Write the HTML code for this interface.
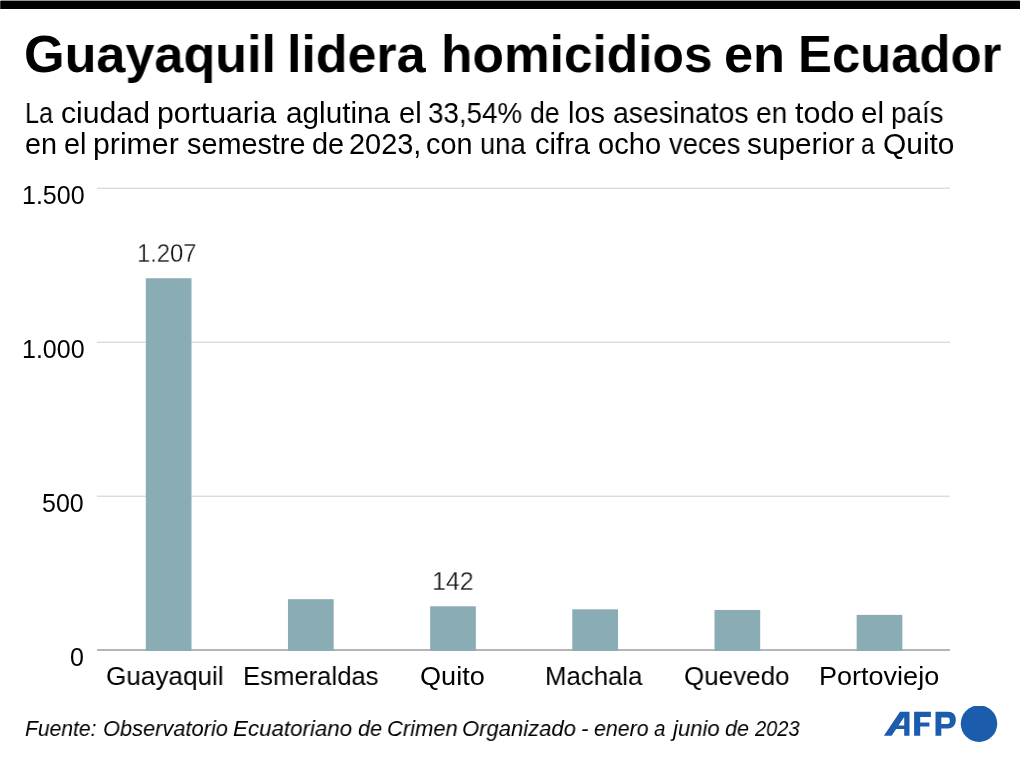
<!DOCTYPE html>
<html><head><meta charset="utf-8"><style>
html,body{margin:0;padding:0;background:#fff;width:1020px;height:760px;overflow:hidden;}
body{position:relative;font-family:"Liberation Sans",sans-serif;}
.t{position:absolute;white-space:nowrap;line-height:1;transform-origin:0 0;will-change:transform;}
.g{position:absolute;left:97px;width:853px;height:1px;background:#dcdcdc;}
.b{position:absolute;background:#8aadb5;}
</style></head><body>
<div style="position:absolute;left:0;top:0;width:1020px;height:1px;background:#959595"></div>
<div style="position:absolute;left:0;top:1px;width:1020px;height:8px;background:#000"></div>
<div style="position:absolute;left:0;top:1px;width:1px;height:8px;background:#3a3a3a"></div>
<div style="position:absolute;left:0;top:0;width:1px;height:1px;background:#cccccc"></div>
<svg style="position:absolute;left:0;top:0" width="1020" height="760"><rect x="97" y="187" width="853" height="1" fill="#f0f0f0"/><rect x="97" y="188" width="853" height="1" fill="#dcdcdc"/><rect x="97" y="341" width="853" height="1" fill="#f0f0f0"/><rect x="97" y="342" width="853" height="1" fill="#dcdcdc"/><rect x="97" y="495" width="853" height="1" fill="#f0f0f0"/><rect x="97" y="496" width="853" height="1" fill="#dcdcdc"/><rect x="97" y="649" width="853" height="2" fill="#b5b5b5"/><rect x="145.80" y="278.24" width="45.7" height="372.76" fill="#8aadb5"/><rect x="287.97" y="599.18" width="45.7" height="51.82" fill="#8aadb5"/><rect x="430.14" y="606.26" width="45.7" height="44.74" fill="#8aadb5"/><rect x="572.31" y="609.34" width="45.7" height="41.66" fill="#8aadb5"/><rect x="714.48" y="609.96" width="45.7" height="41.04" fill="#8aadb5"/><rect x="856.65" y="614.89" width="45.7" height="36.11" fill="#8aadb5"/></svg>
<div class="t" style="left:24.31px;top:28.00px;font-size:52.3px;transform:scaleX(0.9969);color:#000;font-weight:700;">Guayaquil</div>
<div class="t" style="left:286.97px;top:28.00px;font-size:52.3px;transform:scaleX(0.9927);color:#000;font-weight:700;">lidera</div>
<div class="t" style="left:441.40px;top:28.00px;font-size:52.3px;transform:scaleX(0.9834);color:#000;font-weight:700;">homicidios</div>
<div class="t" style="left:724.41px;top:28.00px;font-size:52.3px;transform:scaleX(1.0011);color:#000;font-weight:700;">en</div>
<div class="t" style="left:797.64px;top:28.00px;font-size:52.3px;transform:scaleX(0.9716);color:#000;font-weight:700;">Ecuador</div>
<div class="t" style="left:24.88px;top:99.00px;font-size:28.8px;transform:scaleX(0.8765);color:#000;">La</div>
<div class="t" style="left:61.49px;top:99.00px;font-size:28.8px;transform:scaleX(1.0478);color:#000;">ciudad</div>
<div class="t" style="left:156.98px;top:99.00px;font-size:28.8px;transform:scaleX(1.0506);color:#000;">portuaria</div>
<div class="t" style="left:285.71px;top:99.00px;font-size:28.8px;transform:scaleX(1.0326);color:#000;">aglutina</div>
<div class="t" style="left:398.54px;top:99.00px;font-size:28.8px;transform:scaleX(1.0106);color:#000;">el</div>
<div class="t" style="left:427.69px;top:99.00px;font-size:28.8px;transform:scaleX(0.9643);color:#000;">33,54%</div>
<div class="t" style="left:529.74px;top:99.00px;font-size:28.8px;transform:scaleX(0.9237);color:#000;">de</div>
<div class="t" style="left:568.18px;top:99.00px;font-size:28.8px;transform:scaleX(1.0001);color:#000;">los</div>
<div class="t" style="left:612.57px;top:99.00px;font-size:28.8px;transform:scaleX(0.9848);color:#000;">asesinatos</div>
<div class="t" style="left:755.78px;top:99.00px;font-size:28.8px;transform:scaleX(0.9763);color:#000;">en</div>
<div class="t" style="left:794.69px;top:99.00px;font-size:28.8px;transform:scaleX(1.0600);color:#000;">todo</div>
<div class="t" style="left:860.82px;top:99.00px;font-size:28.8px;transform:scaleX(1.0261);color:#000;">el</div>
<div class="t" style="left:891.23px;top:99.00px;font-size:28.8px;transform:scaleX(0.9660);color:#000;">país</div>
<div class="t" style="left:24.75px;top:130.00px;font-size:28.8px;transform:scaleX(0.9970);color:#000;">en</div>
<div class="t" style="left:63.55px;top:130.00px;font-size:28.8px;transform:scaleX(0.9950);color:#000;">el</div>
<div class="t" style="left:93.08px;top:130.00px;font-size:28.8px;transform:scaleX(1.0505);color:#000;">primer</div>
<div class="t" style="left:186.64px;top:130.00px;font-size:28.8px;transform:scaleX(0.9970);color:#000;">semestre</div>
<div class="t" style="left:311.74px;top:130.00px;font-size:28.8px;transform:scaleX(1.0046);color:#000;">de</div>
<div class="t" style="left:348.76px;top:130.00px;font-size:28.8px;transform:scaleX(1.0034);color:#000;">2023,</div>
<div class="t" style="left:426.16px;top:130.00px;font-size:28.8px;transform:scaleX(0.9911);color:#000;">con</div>
<div class="t" style="left:479.56px;top:130.00px;font-size:28.8px;transform:scaleX(0.9511);color:#000;">una</div>
<div class="t" style="left:534.53px;top:130.00px;font-size:28.8px;transform:scaleX(1.0116);color:#000;">cifra</div>
<div class="t" style="left:597.64px;top:130.00px;font-size:28.8px;transform:scaleX(1.0101);color:#000;">ocho</div>
<div class="t" style="left:668.80px;top:130.00px;font-size:28.8px;transform:scaleX(0.9502);color:#000;">veces</div>
<div class="t" style="left:746.91px;top:130.00px;font-size:28.8px;transform:scaleX(1.0339);color:#000;">superior</div>
<div class="t" style="left:861.41px;top:130.00px;font-size:28.8px;transform:scaleX(0.8500);color:#000;">a</div>
<div class="t" style="left:882.70px;top:130.00px;font-size:28.8px;transform:scaleX(1.0386);color:#000;">Quito</div>
<div class="t" style="left:21.81px;top:183.00px;font-size:25px;transform:scaleX(0.9950);color:#000;">1.500</div>
<div class="t" style="left:21.61px;top:337.00px;font-size:25px;transform:scaleX(0.9966);color:#000;">1.000</div>
<div class="t" style="left:42.41px;top:491.00px;font-size:25px;transform:scaleX(0.9937);color:#000;">500</div>
<div class="t" style="left:70.12px;top:645.00px;font-size:25px;transform:scaleX(0.9833);color:#000;">0</div>
<div class="t" style="left:137.20px;top:240.00px;font-size:26.5px;transform:scaleX(0.8980);color:#1a1a1a;-webkit-text-stroke:0.3px #fff;">1.207</div>
<div class="t" style="left:432.11px;top:568.00px;font-size:26.5px;transform:scaleX(0.9409);color:#1a1a1a;-webkit-text-stroke:0.3px #fff;">142</div>
<div class="t" style="left:106.19px;top:663.00px;font-size:26.7px;transform:scaleX(0.9786);color:#000;">Guayaquil</div>
<div class="t" style="left:242.65px;top:663.00px;font-size:26.7px;transform:scaleX(0.9617);color:#000;">Esmeraldas</div>
<div class="t" style="left:419.74px;top:663.00px;font-size:26.7px;transform:scaleX(1.0161);color:#000;">Quito</div>
<div class="t" style="left:545.14px;top:663.00px;font-size:26.7px;transform:scaleX(0.9657);color:#000;">Machala</div>
<div class="t" style="left:684.10px;top:663.00px;font-size:26.7px;transform:scaleX(0.9736);color:#000;">Quevedo</div>
<div class="t" style="left:819.04px;top:663.00px;font-size:26.7px;transform:scaleX(1.0126);color:#000;">Portoviejo</div>
<div class="t" style="left:24.87px;top:718.00px;font-size:22.5px;transform:scaleX(0.9371);color:#000;font-style:italic;">Fuente:</div>
<div class="t" style="left:102.81px;top:718.00px;font-size:22.5px;transform:scaleX(0.9701);color:#000;font-style:italic;">Observatorio</div>
<div class="t" style="left:233.23px;top:718.00px;font-size:22.5px;transform:scaleX(0.9926);color:#000;font-style:italic;">Ecuatoriano</div>
<div class="t" style="left:357.95px;top:718.00px;font-size:22.5px;transform:scaleX(0.9658);color:#000;font-style:italic;">de</div>
<div class="t" style="left:386.90px;top:718.00px;font-size:22.5px;transform:scaleX(0.9755);color:#000;font-style:italic;">Crimen</div>
<div class="t" style="left:462.20px;top:718.00px;font-size:22.5px;transform:scaleX(0.9797);color:#000;font-style:italic;">Organizado</div>
<div class="t" style="left:580.74px;top:718.00px;font-size:22.5px;transform:scaleX(0.9402);color:#000;font-style:italic;">-</div>
<div class="t" style="left:593.66px;top:718.00px;font-size:22.5px;transform:scaleX(0.9493);color:#000;font-style:italic;">enero</div>
<div class="t" style="left:654.19px;top:718.00px;font-size:22.5px;transform:scaleX(0.9156);color:#000;font-style:italic;">a</div>
<div class="t" style="left:673.03px;top:718.00px;font-size:22.5px;transform:scaleX(0.9822);color:#000;font-style:italic;">junio</div>
<div class="t" style="left:725.25px;top:718.00px;font-size:22.5px;transform:scaleX(0.9615);color:#000;font-style:italic;">de</div>
<div class="t" style="left:754.50px;top:718.00px;font-size:22.5px;transform:scaleX(0.8909);color:#000;font-style:italic;">2023</div>
<svg style="position:absolute;left:882px;top:706px" width="120" height="40" viewBox="0 0 120 40">
<g fill="#1b5cad">
<path d="M1.9,29.8 L18,5.7 L27.5,5.7 L27.5,29.8 L22.2,29.8 L22.2,23 L14.1,23 L9.6,29.8 Z M16.5,19.5 L22.2,19.5 L22.2,10.9 Z" fill-rule="evenodd"/>
<path d="M32.1,5.7 L48.9,5.7 L48.9,11.1 L38.2,11.1 L38.2,16.4 L47.4,16.4 L47.4,20.6 L38.2,20.6 L38.2,29.8 L32.1,29.8 Z"/>
<path d="M53.5,5.7 L66,5.7 C71,5.7 73.8,8.5 73.8,13.6 C73.8,19 71,22.6 66,22.6 L59.3,22.6 L59.3,29.8 L53.5,29.8 Z M59.3,11.5 L59.3,18 L65.5,18 C67,18 67.8,17 67.8,14.7 C67.8,12.5 67,11.5 65.5,11.5 Z" fill-rule="evenodd"/>
<circle cx="97" cy="17.7" r="18.25"/>
</g></svg>
</body></html>
